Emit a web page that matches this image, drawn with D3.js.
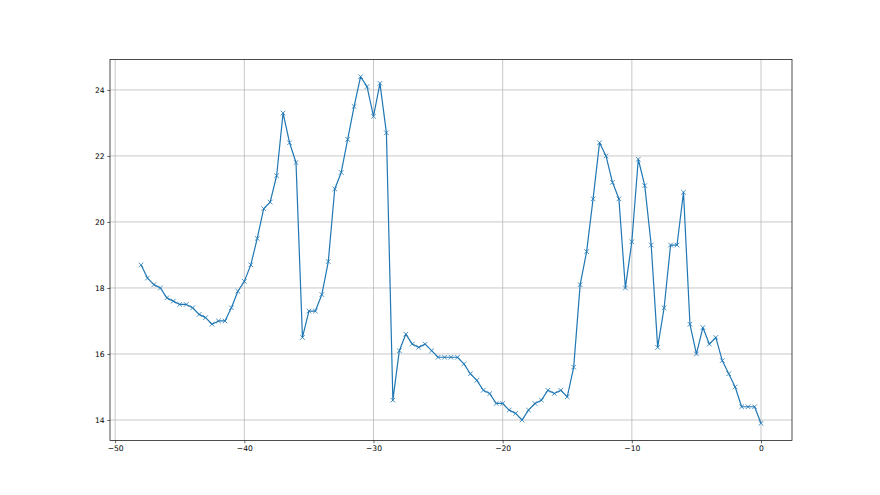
<!DOCTYPE html>
<html>
<head>
<meta charset="utf-8">
<script src="https://cdn.jsdelivr.net/npm/d3@7"></script>
<style>
  html, body { margin: 0; padding: 0; background: #fff; }
  .tick text { font-family: "DejaVu Sans", sans-serif; font-size: 7.6px; fill: #000; }
</style>
</head>
<body>
<div id="viz"></div>
<script>
let w = 880;
let h = 495;
// matplotlib subplot params
let padLeft = 110, padRight = 792, padTop = 59.4, padBottom = 440.6;

// x positions of samples
let xs = d3.range(-48, 0.01, 0.5);
let values = [
  18.7, 18.3, 18.1, 18.0, 17.7, 17.6, 17.5, 17.5, 17.4, 17.2,
  17.1, 16.9, 17.0, 17.0, 17.4, 17.9, 18.2, 18.7, 19.5, 20.4,
  20.6, 21.4, 23.3, 22.4, 21.8, 16.5, 17.3, 17.3, 17.8, 18.8,
  21.0, 21.5, 22.5, 23.5, 24.4, 24.1, 23.2, 24.2, 22.7, 14.6,
  16.1, 16.6, 16.3, 16.2, 16.3, 16.1, 15.9, 15.9, 15.9, 15.9,
  15.7, 15.4, 15.2, 14.9, 14.8, 14.5, 14.5, 14.3, 14.2, 14.0,
  14.3, 14.5, 14.6, 14.9, 14.8, 14.9, 14.7, 15.6, 18.1, 19.1,
  20.7, 22.4, 22.0, 21.2, 20.7, 18.0, 19.4, 21.9, 21.1, 19.3,
  16.2, 17.4, 19.3, 19.3, 20.9, 16.9, 16.0, 16.8, 16.3, 16.5,
  15.8, 15.4, 15.0, 14.4, 14.4, 14.4, 13.9
];
let xTicks = [-50, -40, -30, -20, -10, 0];
let yTicks = [14, 16, 18, 20, 22, 24];

let data = xs.map((x, i) => ({x: x, y: values[i]}));

let svg = d3.select("#viz").append("svg")
  .attr("width", w).attr("height", h);

// autoscale with 5% margins like matplotlib
let xExt = d3.extent(xs), yExt = d3.extent(values);
let xPad = (xExt[1] - xExt[0]) * 0.05, yPad = (yExt[1] - yExt[0]) * 0.05;
let xScale = d3.scaleLinear().domain([xExt[0] - xPad, xExt[1] + xPad]).range([padLeft, padRight]);
let yScale = d3.scaleLinear().domain([yExt[0] - yPad, yExt[1] + yPad]).range([padBottom, padTop]);

// grid
let grid = svg.append("g");
grid.selectAll(".gx").data(xTicks).enter().append("line")
  .attr("x1", d => xScale(d)).attr("x2", d => xScale(d))
  .attr("y1", padTop).attr("y2", padBottom)
  .attr("stroke", "#b0b0b0").attr("stroke-width", 0.7);
grid.selectAll(".gy").data(yTicks).enter().append("line")
  .attr("x1", padLeft).attr("x2", padRight)
  .attr("y1", d => yScale(d)).attr("y2", d => yScale(d))
  .attr("stroke", "#b0b0b0").attr("stroke-width", 0.7);

// line
let line = d3.line().x(d => xScale(d.x)).y(d => yScale(d.y));
svg.append("path").datum(data)
  .attr("d", line)
  .attr("fill", "none")
  .attr("stroke", "#1f77b4")
  .attr("stroke-width", 1.2)
  .attr("stroke-linejoin", "round");

// x markers
let m = 2.3;
svg.append("g").selectAll("path").data(data).enter().append("path")
  .attr("d", d => {
    let cx = xScale(d.x), cy = yScale(d.y);
    return "M" + (cx - m) + "," + (cy - m) + "L" + (cx + m) + "," + (cy + m) +
           "M" + (cx - m) + "," + (cy + m) + "L" + (cx + m) + "," + (cy - m);
  })
  .attr("stroke", "#1f77b4")
  .attr("stroke-width", 0.8)
  .attr("fill", "none");

// axes
let xAxis = d3.axisBottom(xScale).tickValues(xTicks).tickSize(2.7).tickPadding(2.7)
  .tickFormat(d => d3.format("")(d).replace("-", "\u2212"));
let yAxis = d3.axisLeft(yScale).tickValues(yTicks).tickSize(2.7).tickPadding(2.7);

let gx = svg.append("g").attr("transform", "translate(0," + padBottom + ")").call(xAxis);
let gy = svg.append("g").attr("transform", "translate(" + padLeft + ",0)").call(yAxis);
[gx, gy].forEach(g => {
  g.select(".domain").remove();
  g.selectAll(".tick line").attr("stroke", "#000").attr("stroke-width", 0.6);
});

// spines
svg.append("rect")
  .attr("x", padLeft).attr("y", padTop)
  .attr("width", padRight - padLeft).attr("height", padBottom - padTop)
  .attr("fill", "none").attr("stroke", "#000").attr("stroke-width", 0.7);
</script>
</body>
</html>
